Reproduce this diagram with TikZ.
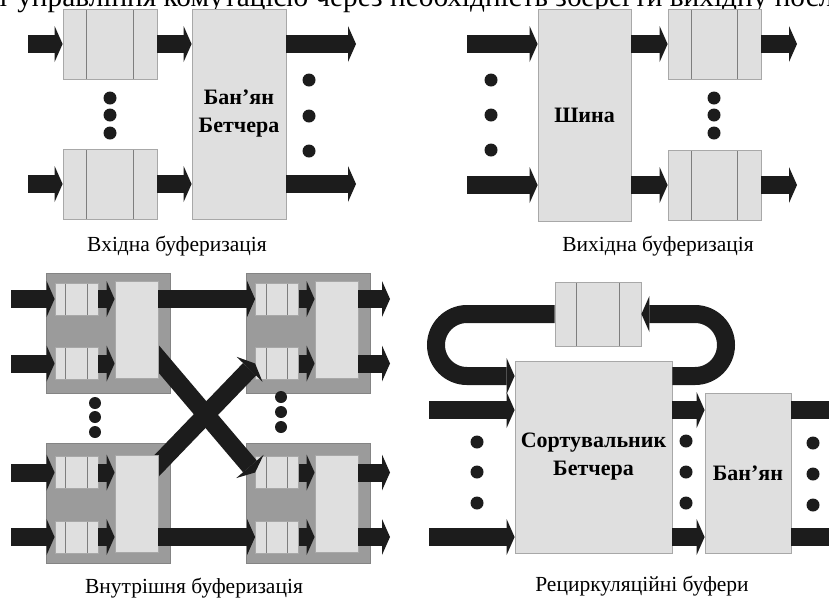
\documentclass[tikz,border=0pt]{standalone}
\usepackage{fontspec}
\setmainfont{Liberation Serif}
\usepackage{tikz}
\usetikzlibrary{arrows.meta, calc}

\definecolor{cellgray}{HTML}{DFDFDF}
\definecolor{edgegray}{HTML}{A8A8A8}
\definecolor{blockgray}{HTML}{9B9B9B}
\definecolor{flowblack}{HTML}{1C1C1C}

\begin{document}
\begin{tikzpicture}[
      x=1pt, y=-1pt,
      cell/.style={rectangle, draw=edgegray, fill=cellgray, line width=0.8pt, inner sep=0pt, align=center, font=\bfseries\fontsize{22}{28}\selectfont},
      queue/.style={cell, path picture={
          \draw[edgegray!75!black, line width=0.8pt]
            ($(path picture bounding box.north west)!0.25!(path picture bounding box.north east)$) --
            ($(path picture bounding box.south west)!0.25!(path picture bounding box.south east)$)
            ($(path picture bounding box.north west)!0.75!(path picture bounding box.north east)$) --
            ($(path picture bounding box.south west)!0.75!(path picture bounding box.south east)$);}},
      bigQueue/.style={queue, minimum width=94pt, minimum height=70pt},
      smallQueue/.style={queue, minimum width=43pt, minimum height=32pt},
      switchbox/.style={cell, minimum width=43pt, minimum height=97pt},
      block/.style={rectangle, draw=blockgray!85!black, fill=blockgray, line width=0.8pt, minimum width=124pt, minimum height=120pt},
      flow/.style={draw=flowblack, line width=18pt, -{Triangle[length=8pt, width=36pt, line width=0pt]}},
      dotc/.style={fill=flowblack},
      caption/.style={anchor=base, font=\fontsize{21.5}{26}\selectfont},
      toptext/.style={anchor=base west, inner sep=0pt, font=\fontsize{29.3}{34}\selectfont}
    ]

    \useasboundingbox (0,0) rectangle (829,598);
    \clip (0,0) rectangle (829,598);

    % cut-off line of the page above
    \node[toptext] (topline) at (-3,6) {т управління комутацією через необхідність зберегти вихідну послідовність};

    % Panel 1: input buffering
    \node[bigQueue] (qA1) at (110,44) {};
    \node[bigQueue] (qA2) at (110,184) {};
    \node[cell, minimum width=94pt, minimum height=210pt] (bA) at (239,114) {Бан’ян\\Бетчера};

    \coordinate (inA1) at (28,44);
    \coordinate (inA2) at (28,184);
    \coordinate (outA1) at (356,44);
    \coordinate (outA2) at (356,184);

    \draw[flow] (inA1) -- (qA1.west);
    \draw[flow] (inA2) -- (qA2.west);
    \draw[flow] (qA1.east) -- (qA1.east -| bA.west);
    \draw[flow] (qA2.east) -- (qA2.east -| bA.west);
    \draw[flow] (outA1 -| bA.east) -- (outA1);
    \draw[flow] (outA2 -| bA.east) -- (outA2);

    \fill[dotc] (110,98) circle[radius=6.5] (110,115) circle[radius=6.5] (110,133) circle[radius=6.5];
    \fill[dotc] (309,80) circle[radius=6.5] (309,116) circle[radius=6.5] (309,151) circle[radius=6.5];

    \node[caption] (capA) at (177,251) {Вхідна буферизація};

    % Panel 2: output buffering
    \node[cell, minimum width=93pt, minimum height=212pt] (bB) at (584.5,115) {Шина};
    \node[bigQueue, minimum width=93pt] (qB1) at (714.5,44) {};
    \node[bigQueue, minimum width=93pt] (qB2) at (714.5,185) {};

    \coordinate (inB1) at (467,44);
    \coordinate (inB2) at (467,185);
    \coordinate (outB1) at (797,44);
    \coordinate (outB2) at (797,185);

    \draw[flow] (inB1) -- (inB1 -| bB.west);
    \draw[flow] (inB2) -- (inB2 -| bB.west);
    \draw[flow] (qB1.west -| bB.east) -- (qB1.west);
    \draw[flow] (qB2.west -| bB.east) -- (qB2.west);
    \draw[flow] (qB1.east) -- (outB1);
    \draw[flow] (qB2.east) -- (outB2);

    \fill[dotc] (491,80) circle[radius=6.5] (491,115) circle[radius=6.5] (491,150) circle[radius=6.5];
    \fill[dotc] (714,98) circle[radius=6.5] (714,115) circle[radius=6.5] (714,133) circle[radius=6.5];

    \node[caption] (capB) at (658,251) {Вихідна буферизація};

    % Panel 3: internal buffering
    \node[block] (gTL) at (108,333) {};
    \node[block] (gTR) at (308,333) {};
    \node[block] (gBL) at (108,503.5) {};
    \node[block] (gBR) at (308,503.5) {};

    \node[smallQueue] (qTL1) at (76.5,299) {};
    \node[smallQueue] (qTL2) at (76.5,363.5) {};
    \node[smallQueue] (qBL1) at (76.5,472.5) {};
    \node[smallQueue] (qBL2) at (76.5,537) {};
    \node[smallQueue] (qTR1) at (277,299) {};
    \node[smallQueue] (qTR2) at (277,363.5) {};
    \node[smallQueue] (qBR1) at (277,472.5) {};
    \node[smallQueue] (qBR2) at (277,537) {};

    % crossing links, drawn under the switches
    \coordinate (crossA) at (140,337);
    \coordinate (crossB) at (140,483);
    \draw[flow] (crossA) -- (qBR1.west);
    \draw[flow] (crossB) -- (qTR2.west);

    \node[switchbox] (sTL) at (136.5,330) {};
    \node[switchbox] (sBL) at (136.5,504) {};
    \node[switchbox] (sTR) at (336.5,330) {};
    \node[switchbox] (sBR) at (336.5,504) {};

    \coordinate (inTL1) at (11,299);
    \coordinate (inTL2) at (11,363.5);
    \coordinate (inBL1) at (11,472.5);
    \coordinate (inBL2) at (11,537);
    \coordinate (outTR1) at (390,299);
    \coordinate (outTR2) at (390,363.5);
    \coordinate (outBR1) at (390,472.5);
    \coordinate (outBR2) at (390,537);

    \draw[flow] (inTL1) -- (qTL1.west);
    \draw[flow] (inTL2) -- (qTL2.west);
    \draw[flow] (inBL1) -- (qBL1.west);
    \draw[flow] (inBL2) -- (qBL2.west);
    \draw[flow] (qTL1.east) -- (qTL1.east -| sTL.west);
    \draw[flow] (qTL2.east) -- (qTL2.east -| sTL.west);
    \draw[flow] (qBL1.east) -- (qBL1.east -| sBL.west);
    \draw[flow] (qBL2.east) -- (qBL2.east -| sBL.west);
    \draw[flow] (qTR1.west -| sTL.east) -- (qTR1.west);
    \draw[flow] (qBR2.west -| sBL.east) -- (qBR2.west);
    \draw[flow] (qTR1.east) -- (qTR1.east -| sTR.west);
    \draw[flow] (qTR2.east) -- (qTR2.east -| sTR.west);
    \draw[flow] (qBR1.east) -- (qBR1.east -| sBR.west);
    \draw[flow] (qBR2.east) -- (qBR2.east -| sBR.west);
    \draw[flow] (outTR1 -| sTR.east) -- (outTR1);
    \draw[flow] (outTR2 -| sTR.east) -- (outTR2);
    \draw[flow] (outBR1 -| sBR.east) -- (outBR1);
    \draw[flow] (outBR2 -| sBR.east) -- (outBR2);

    \fill[dotc] (95,403) circle[radius=6] (95,417) circle[radius=6] (95,432) circle[radius=6];
    \fill[dotc] (281,397) circle[radius=6] (281,412) circle[radius=6] (281,427) circle[radius=6];

    \node[caption] (capC) at (194,593) {Внутрішня буферизація};

    % Panel 4: recirculation buffers
    \node[bigQueue, minimum width=86pt, minimum height=64pt] (qR) at (598,314) {};
    \node[cell, minimum width=157pt, minimum height=192pt] (sD) at (593.5,457) {Сортувальник\\Бетчера};
    \node[cell, minimum width=86pt, minimum height=160pt] (bD) at (748,473) {Бан’ян};

    \coordinate (inD1) at (429,410);
    \coordinate (inD2) at (429,537);
    \coordinate (outD1) at (850,410);
    \coordinate (outD2) at (850,537);
    \coordinate (loopR) at (695,376);
    \coordinate (loopL) at (467,314);

    \draw[flow] (inD1) -- (inD1 -| sD.west);
    \draw[flow] (inD2) -- (inD2 -| sD.west);
    \draw[flow] (inD1 -| sD.east) -- (inD1 -| bD.west);
    \draw[flow] (inD2 -| sD.east) -- (inD2 -| bD.west);
    \draw[flow] (outD1 -| bD.east) -- (outD1);
    \draw[flow] (outD2 -| bD.east) -- (outD2);

    % recirculation loop
    \draw[flow] (loopR -| sD.east) -- (loopR) arc[start angle=90, end angle=-90, radius=31] -- (qR.east);
    \draw[flow] (qR.west) -- (loopL) arc[start angle=-90, end angle=-270, radius=31] -- (loopR -| sD.west);

    \fill[dotc] (477,442) circle[radius=6.5] (477,472) circle[radius=6.5] (477,503) circle[radius=6.5];
    \fill[dotc] (686,441) circle[radius=6.5] (686,472) circle[radius=6.5] (686,503) circle[radius=6.5];
    \fill[dotc] (813,443) circle[radius=6.5] (813,474) circle[radius=6.5] (813,505) circle[radius=6.5];

    \node[caption] (capD) at (642,591) {Рециркуляційні буфери};

    \end{tikzpicture}
\end{document}
